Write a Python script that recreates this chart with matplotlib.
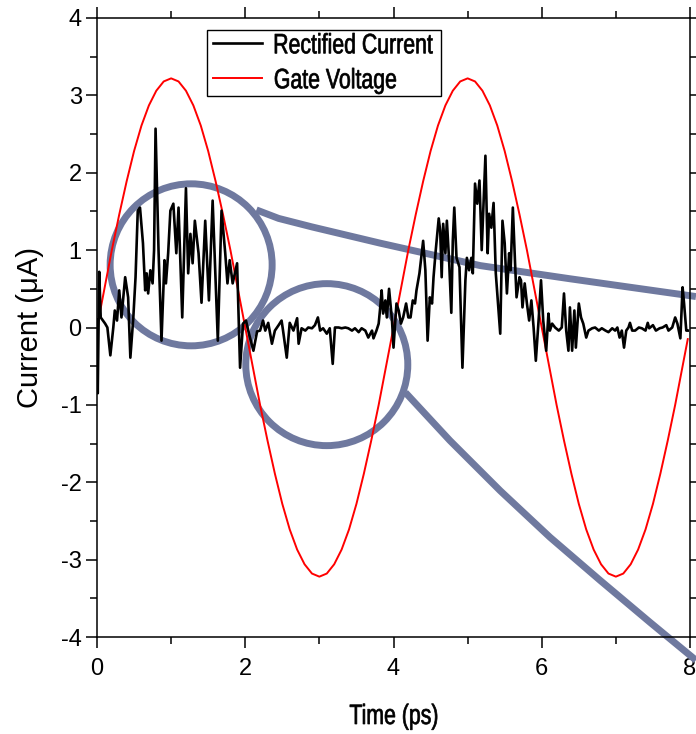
import matplotlib
matplotlib.use('Agg')
import matplotlib.pyplot as plt
from matplotlib.font_manager import FontProperties
from matplotlib.patches import Ellipse, PathPatch
from matplotlib.textpath import TextPath
from matplotlib.transforms import Affine2D, IdentityTransform
import numpy as np

# gate voltage, read every 0.1 ps (last point at 7.97 ps)
gate_voltage = [0.00, 0.50, 1.00, 1.46, 1.89, 2.28, 2.61, 2.87, 3.06, 3.18,
                3.22, 3.18, 3.06, 2.87, 2.61, 2.28, 1.89, 1.46, 1.00, 0.50,
                0.00, -0.50, -1.00, -1.46, -1.89, -2.28, -2.61, -2.87, -3.06, -3.18,
                -3.22, -3.18, -3.06, -2.87, -2.61, -2.28, -1.89, -1.46, -1.00, -0.50,
                0.00, 0.50, 1.00, 1.46, 1.89, 2.28, 2.61, 2.87, 3.06, 3.18,
                3.22, 3.18, 3.06, 2.87, 2.61, 2.28, 1.89, 1.46, 1.00, 0.50,
                0.00, -0.50, -1.00, -1.46, -1.89, -2.28, -2.61, -2.87, -3.06, -3.18,
                -3.22, -3.18, -3.06, -2.87, -2.61, -2.28, -1.89, -1.46, -1.00, -0.50,
                -0.15]
gate_time = np.append(np.arange(80) * 0.1, 7.97)

# rectified current (uA) vs time (ps)
rect_time = [0.00, 0.01, 0.03, 0.05, 0.11, 0.14, 0.18, 0.22, 0.24, 0.27,
             0.30, 0.33, 0.38, 0.42, 0.45, 0.49, 0.52, 0.55, 0.58, 0.62,
             0.65, 0.67, 0.69, 0.72, 0.75, 0.77, 0.79, 0.83, 0.87, 0.91,
             0.93, 0.96, 0.99, 1.03, 1.07, 1.10, 1.15, 1.20, 1.23, 1.26,
             1.29, 1.32, 1.37, 1.41, 1.46, 1.51, 1.56, 1.63, 1.68, 1.73,
             1.76, 1.79, 1.83, 1.89, 1.93, 1.97, 2.01, 2.05, 2.11, 2.16,
             2.20, 2.24, 2.27, 2.31, 2.36, 2.40, 2.45, 2.49, 2.51, 2.56,
             2.60, 2.65, 2.70, 2.72, 2.76, 2.81, 2.85, 2.90, 2.94, 2.98,
             3.01, 3.05, 3.10, 3.14, 3.18, 3.21, 3.26, 3.30, 3.35, 3.39,
             3.44, 3.48, 3.53, 3.57, 3.62, 3.66, 3.71, 3.73, 3.77, 3.80,
             3.82, 3.84, 3.86, 3.89, 3.91, 3.94, 3.98, 4.00, 4.04, 4.07,
             4.10, 4.13, 4.17, 4.20, 4.23, 4.26, 4.29, 4.31, 4.35, 4.37,
             4.40, 4.43, 4.46, 4.49, 4.52, 4.54, 4.57, 4.61, 4.63, 4.65,
             4.67, 4.70, 4.72, 4.75, 4.78, 4.80, 4.82, 4.85, 4.89, 4.93,
             4.97, 4.99, 5.02, 5.05, 5.07, 5.10, 5.13, 5.16, 5.19, 5.24,
             5.27, 5.29, 5.32, 5.35, 5.38, 5.41, 5.44, 5.47, 5.50, 5.53,
             5.56, 5.58, 5.61, 5.64, 5.66, 5.70, 5.72, 5.74, 5.77, 5.80,
             5.83, 5.86, 5.89, 5.92, 5.96, 5.99, 6.02, 6.06, 6.09, 6.11,
             6.14, 6.18, 6.23, 6.27, 6.30, 6.33, 6.36, 6.38, 6.41, 6.44,
             6.46, 6.50, 6.53, 6.56, 6.60, 6.63, 6.68, 6.72, 6.77, 6.81,
             6.86, 6.90, 6.95, 6.99, 7.02, 7.05, 7.08, 7.11, 7.14, 7.17,
             7.19, 7.22, 7.26, 7.31, 7.35, 7.40, 7.43, 7.45, 7.50, 7.54,
             7.59, 7.63, 7.68, 7.71, 7.76, 7.80, 7.83, 7.87, 7.90, 7.92,
             7.95, 7.97]
rect_current = [0.10, -0.85, 0.72, 0.13, 0.05, 0.00, -0.36, 0.00, 0.22, 0.09,
                0.48, 0.13, 0.65, 0.39, -0.39, 0.13, 0.65, 1.51, 1.55, 1.09,
                0.48, 0.70, 0.44, 0.74, 0.57, 1.00, 2.57, 1.00, -0.17, 0.87,
                0.57, 0.96, 1.51, 1.60, 0.96, 1.55, 0.13, 1.80, 0.70, 1.21,
                0.83, 1.38, 0.96, 0.32, 1.38, 0.35, 1.64, -0.17, 1.51, 0.96,
                0.57, 0.87, 0.57, 0.83, -0.52, 0.05, 0.09, -0.08, -0.30, -0.05,
                -0.04, 0.09, -0.04, 0.06, -0.21, -0.04, 0.03, 0.09, -0.04, -0.39,
                0.06, -0.04, 0.12, -0.21, -0.01, -0.04, 0.00, -0.01, 0.03, 0.13,
                -0.04, -0.01, -0.08, -0.01, -0.47, 0.00, 0.00, -0.01, 0.00, -0.01,
                -0.04, -0.01, -0.06, -0.01, -0.04, -0.13, -0.04, -0.14, -0.04, 0.05,
                0.25, 0.48, 0.18, 0.35, 0.13, 0.50, 0.09, -0.26, 0.31, 0.22,
                0.05, 0.13, 0.31, 0.13, 0.13, 0.35, 0.31, 0.48, 0.70, 0.87,
                1.12, 0.74, -0.17, 0.39, 0.31, 0.65, 1.00, 1.41, 1.25, 0.65,
                1.34, 0.96, 1.38, 0.87, 0.19, 1.12, 1.55, 0.90, 0.78, -0.52,
                0.61, 0.90, 0.74, 0.90, 0.70, 1.86, 1.60, 1.90, 1.00, 2.22,
                0.96, 1.47, 1.29, 1.61, 0.70, 0.31, -0.08, 1.38, 1.09, 0.44,
                0.96, 0.74, 1.55, 0.83, 0.39, 0.65, 0.61, 0.26, 0.57, 0.31,
                0.09, 0.35, 0.00, -0.43, 0.13, 0.61, 0.09, -0.30, 0.18, -0.04,
                0.05, 0.00, -0.04, 0.00, 0.44, -0.04, -0.30, 0.26, -0.30, 0.22,
                -0.26, 0.31, 0.13, 0.05, -0.13, -0.04, -0.01, 0.00, -0.04, -0.01,
                -0.04, -0.06, -0.01, -0.04, 0.00, -0.13, -0.04, -0.26, -0.04, 0.00,
                0.06, -0.04, -0.04, 0.00, -0.01, -0.04, 0.06, -0.01, 0.03, -0.04,
                -0.01, 0.00, 0.03, -0.04, 0.00, 0.13, 0.05, -0.14, 0.52, 0.31,
                -0.04, -0.04]

# magnifier annotation (data coordinates)
zoom_circles = [(1.27, 0.81), (3.10, -0.48)]
zoom_radius_px = 81
line1_t = [2.15, 2.45, 2.90, 3.82, 5.17, 6.38, 8.08]
line1_y = [1.52, 1.41, 1.30, 1.09, 0.80, 0.63, 0.40]
line2_t = [4.16, 4.76, 5.44, 6.11, 6.79, 7.46, 8.08]
line2_y = [-0.84, -1.46, -2.11, -2.71, -3.27, -3.81, -4.30]

plt.rcParams['font.family'] = ['Liberation Sans', 'DejaVu Sans']
plt.rcParams['axes.unicode_minus'] = False

# the legend and x title use tightly packed letters: draw them as squeezed paths
SQUEEZE = 0.76
TEXT_PX = 28
squeeze_font = FontProperties(family='Liberation Sans')


def squeezed_text(fig, s, x, y, center=False):
    # x, y in pixels from lower left, y is the baseline
    path = TextPath((0, 0), s, size=TEXT_PX, prop=squeeze_font)
    ext = path.get_extents()
    x0 = ext.x0 + ext.width / 2 if center else ext.x0
    tr = Affine2D().translate(-x0, 0).scale(SQUEEZE, 1).translate(x, y)
    fig.add_artist(PathPatch(tr.transform_path(path), fc='black', ec='black',
                             lw=0.5, transform=IdentityTransform(), zorder=10))


fig = plt.figure(figsize=(6.96, 7.34), dpi=100)
ax = fig.add_axes([97 / 696, 97 / 734, 593 / 696, 619 / 734])

ax.plot(rect_time, rect_current, color='black', lw=1.9, label='Rectified Current', zorder=4)
ax.plot(gate_time, gate_voltage, color='red', lw=1.4, label='Gate Voltage', zorder=3)

ax.set_xlim(0, 8)
ax.set_ylim(-4, 4)

# magnifier circles and connecting lines
ring_col = '#6f799f'
xpx = 593 / 8
ypx = 619 / 8
for c in zoom_circles:
    ax.add_patch(Ellipse(c, 2 * zoom_radius_px / xpx, 2 * zoom_radius_px / ypx,
                         fill=False, ec=ring_col, lw=5, zorder=2, clip_on=False))
ax.plot(line1_t, line1_y, color=ring_col, lw=5, solid_capstyle='butt', zorder=2, clip_on=False)
ax.plot(line2_t, line2_y, color=ring_col, lw=5, solid_capstyle='butt', zorder=2, clip_on=False)

ax.set_xticks([0, 2, 4, 6, 8])
ax.set_xticks([1, 3, 5, 7], minor=True)
ax.set_yticks(range(-4, 5))
ax.set_yticks(np.arange(-3.5, 4, 1), minor=True)
ax.tick_params(which='both', direction='out', top=True, right=True, width=1.1,
               labelsize=17, pad=3)
ax.tick_params(axis='x', which='major', pad=7)
ax.tick_params(which='major', length=8)
ax.tick_params(which='minor', length=5)
for s in ax.spines.values():
    s.set_linewidth(1.1)

ax.set_xlabel('Time (ps)', fontsize=20, color='none')
ax.set_ylabel('Current (\u03bcA)', fontsize=21, labelpad=12)

leg = ax.legend(loc='upper left', bbox_to_anchor=(0.185, 0.981), borderaxespad=0,
                prop={'size': 15.3}, frameon=True, fancybox=False,
                edgecolor='black', framealpha=1, handlelength=2.33, handletextpad=0.6,
                labelspacing=0.75, borderpad=0.28)
leg.get_frame().set_linewidth(1.0)
leg.set_zorder(6)
for t in leg.get_texts():
    t.set_color('none')

fig.canvas.draw()
for t, h in zip(leg.get_texts(), leg.get_lines()):
    bb = t.get_window_extent()
    hy = h.get_transform().transform(h.get_xydata())[0][1]
    squeezed_text(fig, t.get_text(), bb.x0, hy - 0.358 * TEXT_PX)
squeezed_text(fig, 'Time (ps)', (97 + 690) / 2, 10, center=True)

fig.savefig('out.png', dpi=100)
